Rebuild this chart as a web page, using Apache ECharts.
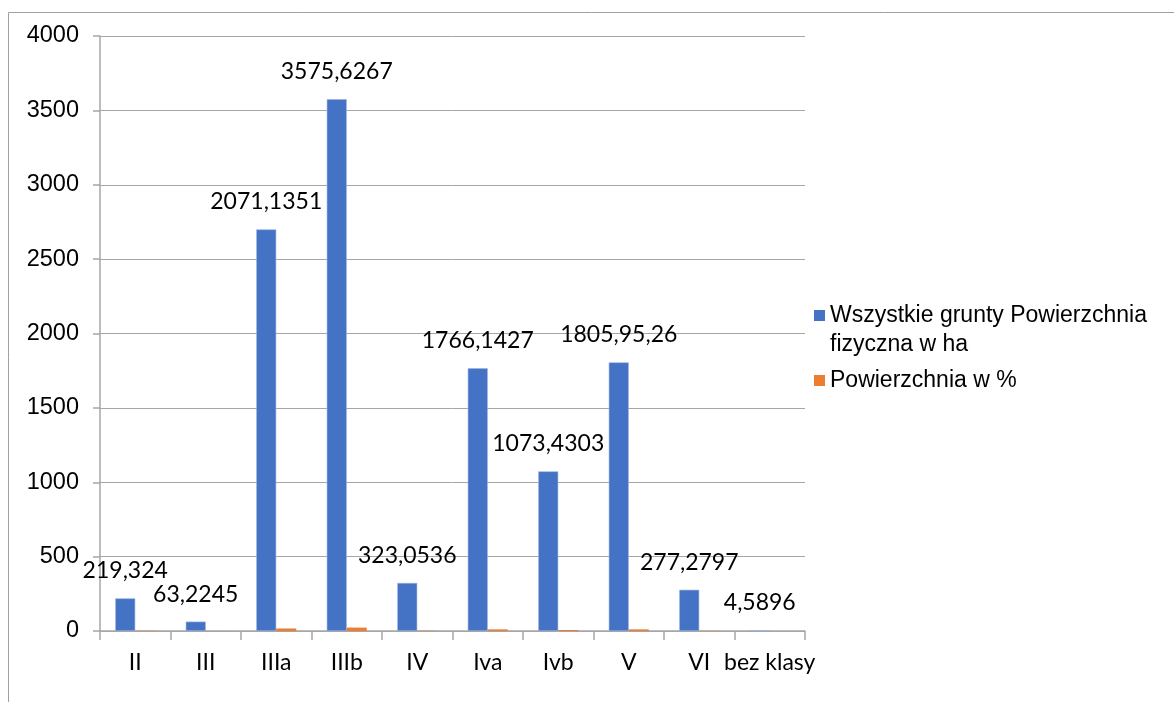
<!DOCTYPE html>
<html>
<head>
<meta charset="utf-8">
<script src="https://cdn.jsdelivr.net/npm/echarts@6/dist/echarts.min.js"></script>
<style>
  html, body { margin: 0; padding: 0; background: #fff; }
  #chart { width: 1174px; height: 702px; }
</style>
</head>
<body>
<div id="chart"></div>
<script>
const categories = ['II', 'III', 'IIIa', 'IIIb', 'IV', 'Iva', 'Ivb', 'V', 'VI', 'bez klasy'];
// Wszystkie grunty Powierzchnia fizyczna w ha (bar heights as drawn)
const areaHa = [219.324, 63.2245, 2700, 3575.6267, 323.0536, 1766.1427, 1073.4303, 1805.95, 277.2797, 4.5896];
// data labels exactly as printed above the blue bars
const areaLabels = ['219,324', '63,2245', '2071,1351', '3575,6267', '323,0536', '1766,1427', '1073,4303', '1805,95,26', '277,2797', '4,5896'];
// Powierzchnia w %
const areaPct = [1.9, 0.5, 17, 23, 2, 11, 6.5, 11, 1.7, 0.04];
const yTicks = [0, 500, 1000, 1500, 2000, 2500, 3000, 3500, 4000];

const seriesNames = ['Wszystkie grunty Powierzchnia\nfizyczna w ha', 'Powierzchnia w %'];

const chart = echarts.init(document.getElementById('chart'));

const legendText = { fontFamily: 'Liberation Sans', fontSize: 23, lineHeight: 29, color: '#000' };

const option = {
  animation: false,
  backgroundColor: '#fff',
  graphic: [
    {
      type: 'rect',
      shape: { x: 8.5, y: 12.5, width: 1200, height: 720 },
      style: { fill: 'none', stroke: '#a0a0a0', lineWidth: 1 },
      z: -1
    }
  ],
  grid: { left: 100, top: 36, width: 705, height: 595, containLabel: false },
  legend: [
    {
      // tall icon box with the square at its top, so the marker sits on the first text line
      orient: 'vertical',
      left: 809,
      top: 296,
      itemWidth: 11,
      itemHeight: 40,
      icon: 'path://M0,0L11,0L11,11L0,11Z M11,40',
      itemStyle: { borderWidth: 0 },
      data: [seriesNames[0]],
      textStyle: legendText
    },
    {
      orient: 'vertical',
      left: 809,
      top: 361,
      itemWidth: 11,
      itemHeight: 11,
      icon: 'rect',
      itemStyle: { borderWidth: 0 },
      data: [seriesNames[1]],
      textStyle: legendText
    }
  ],
  xAxis: {
    type: 'category',
    data: categories,
    axisLine: { lineStyle: { color: '#a6a6a6', width: 1.5 } },
    axisTick: { show: true, length: 9, lineStyle: { color: '#a6a6a6', width: 1.5 } },
    axisLabel: { interval: 0, fontFamily: 'Lato', fontSize: 23, color: '#000', margin: 20 }
  },
  yAxis: {
    type: 'value',
    min: yTicks[0],
    max: yTicks[yTicks.length - 1],
    interval: 500,
    axisLine: { show: true, lineStyle: { color: '#a6a6a6', width: 1.5 } },
    axisTick: { show: true, length: 7, lineStyle: { color: '#a6a6a6', width: 1.5 } },
    splitLine: { show: true, lineStyle: { color: '#a6a6a6', width: 1 } },
    axisLabel: {
      fontFamily: 'Liberation Sans',
      fontSize: 23.5,
      color: '#000',
      margin: 21,
      formatter: v => String(v)
    }
  },
  series: [
    {
      name: seriesNames[0],
      type: 'bar',
      data: areaHa,
      barWidth: 20,
      barGap: '0%',
      itemStyle: { color: '#4472c4', borderColor: '#9db4e0', borderWidth: 0.6 },
      label: {
        show: true,
        position: 'top',
        distance: 16,
        fontFamily: 'Lato',
        fontSize: 23,
        color: '#000',
        formatter: p => areaLabels[p.dataIndex]
      }
    },
    {
      name: seriesNames[1],
      type: 'bar',
      data: areaPct,
      barWidth: 20,
      itemStyle: { color: '#ed7d31' }
    }
  ]
};

chart.setOption(option);
</script>
</body>
</html>
